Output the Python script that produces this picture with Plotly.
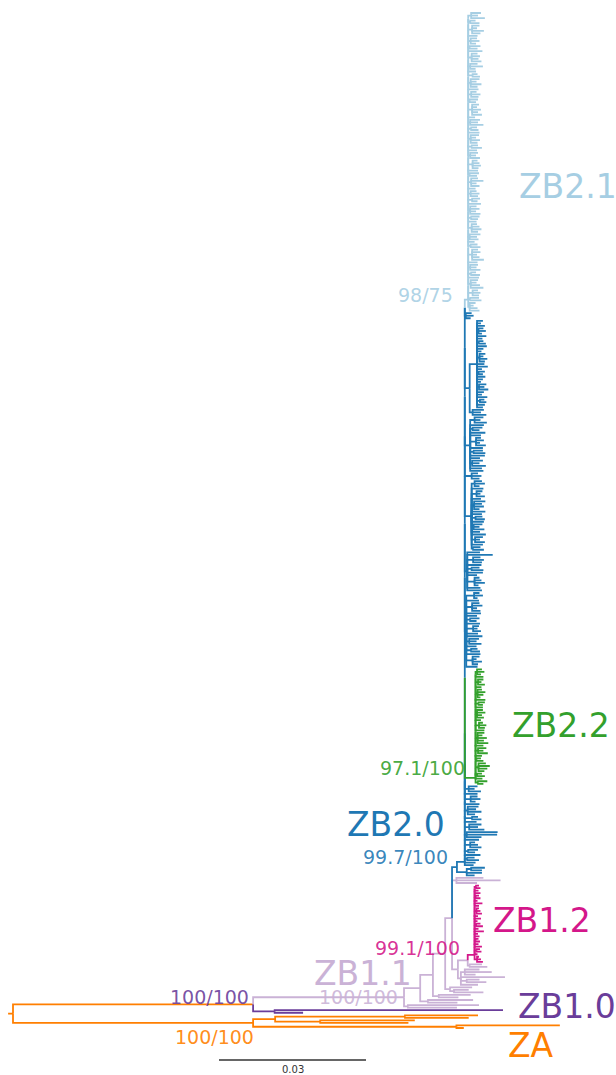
import plotly.graph_objects as go

# ---------------- colours ----------------
C_ZB21 = "#a6cee3"
C_ZB20 = "#1f78b4"
C_ZB22 = "#33a02c"
C_ZB12 = "#d4178a"
C_ZB11 = "#cab2d6"
C_ZB10 = "#6a3d9a"
C_ZA = "#ff7f00"

# ---------------- data: branch lengths in 0.001 substitutions/site ----------------
# a group is either a tip length, or [stem length, member, member, ...]
root_stub = 1.0
root_to_zb = 49.0
root_to_za = 49.0

zb21_stem = 0.7
zb21_groups = [
    [0.6, 2.0, 1.4, 2.8], [0.4, 1.1, 1.9], [0.8, 1.5, 1.0, 2.4, 1.7], 1.9,
    [0.5, 1.3, 1.8, 1.1], [0.3, 2.2, 1.6], 2.9, [0.7, 1.2, 1.7, 1.4, 2.0],
    [0.4, 1.5, 2.6, 1.1], 1.6, [0.9, 1.0, 1.5], [0.5, 1.8, 1.2, 2.2, 1.4], 2.1,
    [0.6, 1.1, 1.9, 1.5], [0.3, 1.7, 1.3], [0.8, 1.4, 1.0, 1.8, 1.2, 2.0], 1.4,
    [0.4, 2.0, 1.6, 2.7], [0.6, 1.2, 1.5], 2.3, [0.5, 1.7, 1.1, 1.9, 1.4],
    [0.7, 1.3, 2.1], 1.8, [0.4, 1.6, 1.2, 2.0], [0.9, 1.0, 1.4, 1.7, 1.2], 2.0,
    [0.3, 1.9, 1.5], [0.6, 1.4, 2.5, 1.1, 1.7], 1.5, [0.5, 1.2, 1.8, 1.5],
    [0.8, 1.6, 1.1], 2.6, [0.4, 1.3, 1.9, 1.2, 2.1], [0.6, 1.7, 1.4], 1.7,
    [0.7, 1.1, 1.6, 2.0, 1.3], [0.3, 2.2, 1.5, 1.8], 1.3, [0.5, 1.4, 2.0],
    [0.8, 1.2, 1.7, 1.0, 1.5, 2.4], 1.9, [0.4, 1.6, 1.3, 2.1], [0.6, 1.0, 1.8],
    2.2, [0.5, 1.5, 1.2, 1.9, 2.6], [0.9, 1.1, 1.6, 1.3], [0.4, 1.8, 2.3],
    [0.3, 1.2, 0.8, 1.6, 2.0],
]

zb20_stem = 1.6
zb20_upper_groups = [
    [0.2, 1.2, 1.6, 1.0],
    [1.0,
     [1.5, 1.2, 0.8, 1.6, [0.3, 1.0, 1.5, 0.7], 1.9, 1.1, [0.4, 0.9, 1.4], 2.0, 1.3, 0.9,
      [0.5, 1.2, 0.8, 1.6, 1.1], 1.5, 2.2, 1.0, [0.3, 1.3, 0.9], 1.7, 1.2, 0.8,
      [0.4, 1.5, 1.1, 1.9], 1.4, 1.0, 2.1, [0.6, 0.9, 1.3], 1.6, 1.2],
     [0.6, 2.3, 1.7, 2.8]],
    [1.1, [0.9, 1.8, 1.2, 2.5], 2.8, [0.5, 2.0, 1.4], 3.1, 2.2, [1.2, 1.0, 1.6, 0.8, 2.0],
     2.6, [0.7, 1.9, 2.4], 3.0, 2.0, [0.4, 2.2, 1.5, 2.8], 2.4, 2.7],
    [1.4, 1.3, 2.0, 1.6],
    [1.4, [0.6, 1.5, 2.1, 1.0], 2.4, [1.0, 1.2, 0.8, 1.7], 1.9, [0.5, 2.3, 1.6, 2.0, 1.1],
     2.8, 2.1, [0.8, 1.4, 1.9], 2.5, [0.4, 1.8, 1.2, 2.2], 1.7, 2.9,
     [0.7, 1.6, 1.0, 2.0], 2.3, [0.3, 1.5, 2.2]],
    [0.5, 2.6, 5.2, [1.2, 1.5, 2.2, 1.8], 2.9, [0.9, 1.6, 2.4], 3.2, 2.0,
     [1.5, 1.0, 1.4, 2.1, 0.8], 2.7, 3.0],
    [0.3, [1.6, 1.1, 1.8, 0.7], 2.6, [1.2, 1.5, 2.1, 1.0, 1.7], 3.0, 2.2, [0.8, 1.9, 1.3],
     2.8, [1.4, 1.2, 0.9, 1.6], 2.4, 3.3, [0.6, 2.0, 1.5, 2.5], 2.1, [1.0, 1.3, 1.8],
     2.9, [1.3, 1.4, 0.8, 1.9, 1.1], 2.3],
]

zb22_stem = 2.2
zb22_groups = [
    [0.3, 1.0, 1.5, 0.8], 1.6, [0.5, 1.1, 0.7, 1.4], 1.2, [0.4, 0.9, 1.6, 1.2, 0.6], 2.0,
    [0.6, 1.3, 0.9], 1.5, [0.3, 1.2, 1.7, 1.0, 1.4], 1.1, [0.7, 0.8, 1.5, 1.2], 1.8,
    [0.4, 1.4, 1.0, 1.9, 1.3, 2.2], 1.6, [0.5, 1.7, 1.1, 2.0], 1.3, [0.2, 0.9, 1.4],
    [0.6, 1.5, 2.3, 1.8, 1.2], [0.3, 1.0, 1.6], 1.4, [0.5, 1.9, 1.1],
]

zb20_lower_groups = [
    [0.8, 1.8, 1.2, 2.5], 2.6, [1.2, 1.4, 2.0, 1.0], 3.0, [0.6, 2.2, 1.7, 2.8, 1.5],
    [1.5, 1.2, 1.9], 2.4, [0.9, 2.5, 1.8, 3.1], [0.4, 6.3, 6.2, 3.0], 2.9,
    [1.1, 1.0, 1.6, 2.3], [0.7, 2.0, 1.4], 3.2, [0.5, 1.5, 2.4], 2.2, 1.8,
]

zb2_stem = 1.0
zb2_lower_group = [2.0, [0.9, 2.8, 2.2], 3.1, 1.6]

zb12_stem = 1.4
zb12_groups = [
    [0.3, 0.6, 0.9], 0.8, 1.2, [0.2, 0.7, 1.0], 0.6, 1.6, 0.9, [0.4, 0.5, 0.8, 1.1], 0.7,
    1.3, 0.6, [0.3, 0.9, 1.4], 0.8, 1.9, 0.7, 1.0, [0.2, 0.6, 0.9], 0.8, 1.5,
    [0.4, 0.7, 1.0], 0.6, [0.5, 0.4, 0.8, 1.2],
]

# ZB1.1 backbone: ZB1 root, then nodes climbing towards ZB2
zb11_backbone = [30.8, 3.3, 2.6, 2.5, 1.4, 1.2, 2.0]
zb11_top = [0.9, 5.5, 9.0, 4.2]
zb11_a0 = [0.4, 2.5, 3.6]
zb11_a = [0.6, [0.8, 3.0, 5.5, 2.2], 9.0, [1.2, 2.6, 4.0], 3.5]
zb11_b = [1.0, 4.5, [0.8, 3.0, 6.0]]
zb11_c = [1.2, 6.5, 4.0]
zb11_d = [1.6, 9.2, 6.0]
zb11_e = [0.8, 14.5, 10.0]

zb10_clade = [4.4, 46.6, 5.8]
za_children = [[4.5, [26.5, 14.9, 13.0], [9.2, 19.3, 18.0]], [41.5, 21.1, 1.5]]

scale_length = 30.0  # = 0.03 substitutions/site
scale_text = "0.03"

# ---------------- tree building ----------------
def build(item, color):
    if isinstance(item, (int, float)):
        return {"len": float(item), "kids": [], "col": color}
    return {"len": float(item[0]), "kids": [build(c, color) for c in item[1:]], "col": color}


def node(length, kids, color):
    return {"len": float(length), "kids": kids, "col": color}


def comb(stem, members, color):
    cur = members[0]
    for m in members[1:]:
        cur = node(0.0, [cur, m], color)
    cur["len"] = float(stem)
    return cur


zb21 = comb(zb21_stem, [build(g, C_ZB21) for g in zb21_groups], C_ZB21)
zb22 = comb(zb22_stem, [build(g, C_ZB22) for g in zb22_groups], C_ZB22)
zb20 = comb(zb20_stem,
            [zb21] + [build(g, C_ZB20) for g in zb20_upper_groups] + [zb22]
            + [build(g, C_ZB20) for g in zb20_lower_groups], C_ZB20)
zb2 = node(zb2_stem, [zb20, build(zb2_lower_group, C_ZB20)], C_ZB20)
zb12 = comb(zb12_stem, [build(g, C_ZB12) for g in zb12_groups], C_ZB12)
bb = zb11_backbone
n468 = node(bb[6], [zb12, build(zb11_a0, C_ZB11)], C_ZB11)
n458 = node(bb[5], [n468, build(zb11_a, C_ZB11)], C_ZB11)
n452 = node(bb[4], [zb2, build(zb11_top, C_ZB11), n458], C_ZB11)
n445 = node(bb[3], [n452, build(zb11_b, C_ZB11)], C_ZB11)
n433 = node(bb[2], [n445, build(zb11_c, C_ZB11)], C_ZB11)
n420 = node(bb[1], [n433, build(zb11_d, C_ZB11)], C_ZB11)
zb1 = node(bb[0], [n420, build(zb11_e, C_ZB11)], C_ZB11)
zb10 = build(zb10_clade, C_ZB10)
zb = node(root_to_zb, [zb1, zb10], C_ZA)
za = node(root_to_za, [build(c, C_ZA) for c in za_children], C_ZA)
root = node(0.0, [zb, za], C_ZA)

# ---------------- layout (pixel-like vertical coordinate) ----------------
W, H = 616, 1075
X0_PX = 13.0        # pixel column of the root
PX_PER_UNIT = 4.9   # pixels per 0.001 subs/site
Y_TOP, Y_BOTTOM = 13.0, 1028.0


def count_tips(n):
    return 1 if not n["kids"] else sum(count_tips(k) for k in n["kids"])


N_TIPS = count_tips(root)
STEP = (Y_BOTTOM - Y_TOP) / (N_TIPS - 1)
_counter = [0]


def place(n, x_parent):
    n["x"] = x_parent + n["len"]
    if not n["kids"]:
        n["y"] = Y_TOP + _counter[0] * STEP
        _counter[0] += 1
    else:
        for k in n["kids"]:
            place(k, n["x"])
        n["y"] = (n["kids"][0]["y"] + n["kids"][-1]["y"]) / 2.0


place(root, 0.0)

segs = {}


def collect(n):
    for k in n["kids"]:
        xs, ys = segs.setdefault(k["col"], ([], []))
        xs += [n["x"], n["x"], k["x"], None]
        ys += [n["y"], k["y"], k["y"], None]
        collect(k)


collect(root)
xs, ys = segs.setdefault(C_ZA, ([], []))
xs += [-root_stub, 0.0, None]
ys += [root["y"], root["y"], None]

fig = go.Figure()
order = [C_ZA, C_ZB10, C_ZB11, C_ZB12, C_ZB20, C_ZB22, C_ZB21]
for col in order:
    if col in segs:
        fig.add_trace(go.Scatter(x=segs[col][0], y=segs[col][1], mode="lines",
                                 line=dict(color=col, width=1.8), hoverinfo="skip",
                                 showlegend=False))


def X(px):
    return (px - X0_PX) / PX_PER_UNIT


# scale bar
sb_x0 = X(219)
fig.add_trace(go.Scatter(x=[sb_x0, sb_x0 + scale_length], y=[1060, 1060], mode="lines",
                         line=dict(color="#333333", width=1.6), hoverinfo="skip",
                         showlegend=False))

FONT = "DejaVu Sans"


def rgba(hexc, a):
    h = hexc.lstrip("#")
    return "rgba(%d,%d,%d,%.2f)" % (int(h[0:2], 16), int(h[2:4], 16), int(h[4:6], 16), a)


annotations = []
# clade labels: (text, px x, anchor, px y, colour)
clade_pos = [("ZB2.1", 517, "left", 186, C_ZB21),
             ("ZB2.2", 510, "left", 725, C_ZB22),
             ("ZB2.0", 447, "right", 824, C_ZB20),
             ("ZB1.2", 491, "left", 920, C_ZB12),
             ("ZB1.1", 414, "right", 973, C_ZB11),
             ("ZB1.0", 516, "left", 1006, C_ZB10),
             ("ZA", 506, "left", 1045, C_ZA)]
for txt, px, anc, py, col in clade_pos:
    annotations.append(dict(x=X(px), y=py, text=txt, showarrow=False, xanchor=anc,
                            yanchor="middle", font=dict(family=FONT, size=33, color=col)))

support_pos = [(455, 295, C_ZB21), (467, 768, C_ZB22), (450, 857, C_ZB20),
               (462, 948, C_ZB12), (400, 997, C_ZB11), (251, 997, C_ZB10),
               (256, 1037, C_ZA)]
support_text = ["98/75", "97.1/100", "99.7/100", "99.1/100", "100/100", "100/100", "100/100"]
for txt, (px, py, col) in zip(support_text, support_pos):
    annotations.append(dict(x=X(px), y=py, text=txt, showarrow=False, xanchor="right",
                            yanchor="middle", font=dict(family=FONT, size=19, color=rgba(col, 0.9))))

annotations.append(dict(x=sb_x0 + scale_length / 2, y=1069, text=scale_text, showarrow=False,
                        xanchor="center", yanchor="middle",
                        font=dict(family=FONT, size=10, color="#333333")))

fig.update_layout(
    width=W, height=H, autosize=False,
    margin=dict(l=0, r=0, t=0, b=0, pad=0),
    paper_bgcolor="white", plot_bgcolor="white",
    xaxis=dict(range=[X(0), X(W)], visible=False, fixedrange=True),
    yaxis=dict(range=[H, 0], visible=False, fixedrange=True),
    annotations=annotations, showlegend=False, hovermode=False,
)

fig.write_html("out.html", config={"displayModeBar": False})

# remove the default page margin so the figure fills the window exactly
with open("out.html", "r", encoding="utf-8") as f:
    html = f.read()
html = html.replace("<head>", "<head><style>html,body{margin:0;padding:0;overflow:hidden}</style>", 1)
with open("out.html", "w", encoding="utf-8") as f:
    f.write(html)
